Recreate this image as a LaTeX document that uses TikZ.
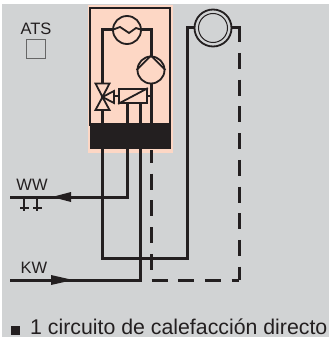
\documentclass[tikz,border=0pt]{standalone}
\usepackage{fontspec}
\setmainfont{Liberation Sans}
\usetikzlibrary{arrows.meta,positioning}
\definecolor{panelgray}{HTML}{D1D3D4}
\definecolor{peach}{HTML}{FDD7C5}
\definecolor{inkblack}{HTML}{231F20}

\begin{document}
\begin{tikzpicture}[
    x=1pt, y=-1pt,
    pipe/.style={draw=inkblack, line width=3pt, line join=miter},
    returnpipe/.style={pipe, dash pattern=on 16pt off 10.7pt},
    thin line/.style={draw=inkblack, line width=1.8pt, line join=miter},
    symbol/.style={circle, draw=inkblack, line width=1.8pt, inner sep=0pt},
    label/.style={inner sep=0pt, font=\fontsize{16.5}{17}\selectfont, text=inkblack},
    arrowhead/.style={fill=inkblack, draw=none}
  ]
    \useasboundingbox (0,0) rectangle (329,337);
    \fill[panelgray] (2,4) rectangle (329,337);
    \fill[peach] (87.5,5) rectangle (173,153);
    \draw[thin line] (90,8) rectangle (170,125);
    \node[fill=inkblack, minimum width=81pt, minimum height=26pt, inner sep=0pt] (block) at (130,136) {};

    % fixed points on the pipes
    \coordinate (topleft) at (102,30);
    \coordinate (topright) at (151,30);
    \coordinate (blockA) at (102,149);
    \coordinate (blockB) at (127,149);
    \coordinate (blockC) at (140,149);
    \coordinate (blockD) at (151,150);
    \coordinate (wwend) at (10,197);
    \coordinate (wwcorner) at (127,197);
    \coordinate (kwstart) at (10,280);
    \coordinate (kwcorner) at (140,280);
    \coordinate (flowleft) at (102,258);
    \coordinate (flowright) at (187,258);
    \coordinate (flowtop) at (187,28);
    \coordinate (backtop) at (239,28);
    \coordinate (backstub) at (239,42);
    \coordinate (backstart) at (239,53);
    \coordinate (backright) at (239,280);
    \coordinate (backleft) at (151,280);
    \coordinate (tapA) at (24,197);
    \coordinate (tapB) at (37,197);

    % circuit in the unit
    \draw[pipe] (102,123) -- (topleft) -- (topright) -- (151,123);
    \node[symbol, fill=peach, minimum size=28pt] (exchanger) at (127,30) {};
    \draw[thin line] (exchanger.west) -- (120,27) -- (129,33) -- (136,28) -- (exchanger.east);
    \node[symbol, fill=peach, minimum size=27pt] (pump) at (151,70) {};
    \draw[thin line] (pump.west) -- (pump.north) -- (pump.east);
    \node[draw=inkblack, line width=1.8pt, fill=peach, minimum width=28pt, minimum height=14pt, inner sep=0pt] (actuator) at (133,96) {};
    \draw[thin line] (actuator.south west) -- (actuator.north east);
    \draw[pipe] (127,103) -- (127,123);
    \draw[pipe] (140,103) -- (140,123);
    \coordinate (valve) at (102.5,97);
    \draw[thin line, fill=peach] (valve) -- (95.5,83.5) -- (109.5,83.5) -- cycle;
    \draw[thin line, fill=peach] (valve) -- (95.5,110) -- (109.5,110) -- cycle;
    \draw[thin line, fill=peach] (valve) -- (114,91) -- (114,103) -- cycle;
    \draw[thin line] (114,96) -- (actuator.west);
    \draw[thin line] (actuator.east) -- (151,96);

    % store
    \node[symbol, fill=panelgray, minimum size=37pt] (store) at (213,28) {};
    \node[symbol, minimum size=29pt, line width=1pt] (storeinner) at (store) {};

    % outside the unit
    \draw[pipe] (blockA) -- (flowleft) -- (flowright) -- (flowtop) -- (store.west);
    \draw[pipe] (blockB) -- (wwcorner) -- (wwend);
    \draw[pipe] (blockC) -- (kwcorner) -- (kwstart);
    \draw[pipe] (store.east) -- (backtop) -- (backstub);
    \draw[returnpipe] (backstart) -- (backright);
    \draw[returnpipe, dash phase=3pt] (blockD) -- (backleft) -- (backright);
    \fill[arrowhead] (52,197) -- (71,192) -- (71,202) -- cycle;
    \fill[arrowhead] (73,280) -- (51,275) -- (51,285) -- cycle;
    \draw[thin line] (tapA) -- (24,211);
    \draw[thin line] (tapB) -- (37,211);
    \draw[thin line] (20,208) -- (29,208);
    \draw[thin line] (33,208) -- (42,208);

    % labels
    \node[label] (ats) at (36,29) {ATS};
    \node[draw=black!60, line width=.8pt, minimum size=19pt, inner sep=0pt] (atsbox) at (36,48.5) {};
    \node[label] (ww) at (32,185) {WW};
    \node[label] (kw) at (34,268) {KW};
    \node[fill=inkblack, minimum size=9pt, inner sep=0pt] (bullet) at (15.5,330) {};
    \node[label, font=\fontsize{21.3}{22}\selectfont, anchor=base west] (caption) at (30,334) {1 circuito de calefacción directo};
  \end{tikzpicture}
\end{document}
